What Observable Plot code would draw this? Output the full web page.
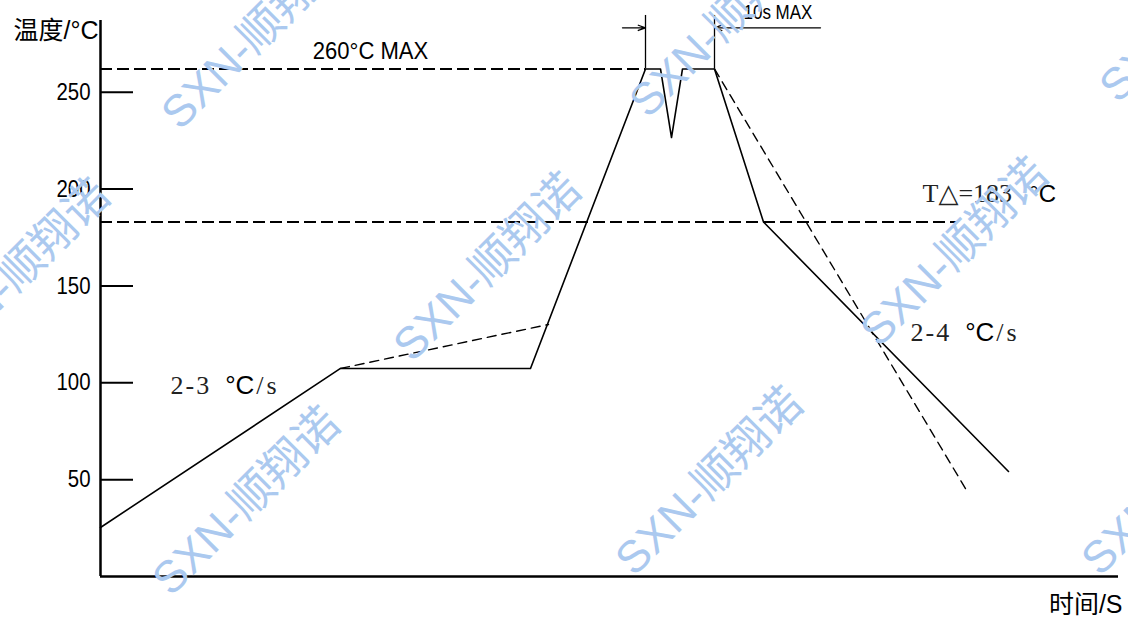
<!DOCTYPE html>
<html>
<head>
<meta charset="utf-8">
<script src="https://cdn.jsdelivr.net/npm/d3@7"></script>
<script src="https://cdn.jsdelivr.net/npm/@observablehq/plot@0.6"></script>
<style>
  html, body { margin: 0; padding: 0; background: #fff; }
  #wrap { position: relative; width: 1128px; height: 619px; overflow: hidden; background: #fff; }
  #chart { position: absolute; left: 0; top: 0; }
  #wm { position: absolute; left: 0; top: 0; width: 1128px; height: 619px; pointer-events: none; }
  #wm div {
    position: absolute; white-space: nowrap; color: #abc9ef;
    transform: translate(-50%, -50%) rotate(-45deg);
    font-family: "Liberation Sans", "Noto Sans CJK SC", sans-serif; font-size: 45px;
  }
</style>
</head>
<body>
<div id="wrap"><div id="chart"></div><div id="wm"></div></div>
<script>
// ---------- data (time in chart units, temperature in °C) ----------
const yTicks = [50, 100, 150, 200, 250];
const profileTime = [0, 240, 430, 545, 560, 571, 582, 614, 663, 908];
const profileTemp = [25.3, 107.4, 107.4, 262, 262, 226.6, 262, 262, 183, 54.2];
const soakAltTime = [240, 448];
const soakAltTemp = [107.4, 130.1];
const coolAltTime = [614, 865];
const coolAltTemp = [262, 45.4];
const limitTemps = [262, 183];
const limitEnds = [545, 857];
const dimTimes = [545, 614];
const dimTopTemp = 289.6;
const dimArrowTemp = 283.2;
const arrowStarts = [522, 720];
const arrowEnds = [545, 614];
const yLabel = "温度/°C";
const xLabel = "时间/S";
const noteTexts = ["260°C MAX", "10s MAX"];
const noteTime = [270, 643];
const noteTemp = [271.2, 290.9];
const rateTexts = ["2-3 °C/s", "2-4 °C/s", "T△=183 °C"];
const rateTime = [70, 810, 822];
const rateTemp = [98.6, 126.0, 197.7];
const watermarkText = "SXN-顺翔诺";

// ---------- tables ----------
const profile = profileTime.map((t, i) => ({t, v: profileTemp[i]}));
const soakAlt = soakAltTime.map((t, i) => ({t, v: soakAltTemp[i]}));
const coolAlt = coolAltTime.map((t, i) => ({t, v: coolAltTemp[i]}));
const limits = limitTemps.map((v, i) => ({v, end: limitEnds[i]}));
const dims = dimTimes.map(t => ({t, top: dimTopTemp, base: limitTemps[0]}));
const arrows = arrowStarts.map((s, i) => ({x1: s, x2: arrowEnds[i], y: dimArrowTemp}));
const notes = noteTexts.map((text, i) => ({text, t: noteTime[i], v: noteTemp[i]}));
const rates = rateTexts.map((text, i) => ({text, t: rateTime[i], v: rateTemp[i]}));

const SANS = "'Liberation Sans', 'Noto Sans CJK SC', Arial, sans-serif";
const SERIF = "'Liberation Serif', 'DejaVu Serif', serif";

const svg = Plot.plot({
  width: 1128, height: 619,
  marginLeft: 100, marginRight: 10, marginTop: 20, marginBottom: 43,
  style: {background: "transparent", fontFamily: SANS, color: "#000"},
  x: {domain: [0, 1018], axis: null},
  y: {domain: [0, 287]},
  marks: [
    Plot.axisY(yTicks, {tickSize: 0, tickPadding: 10, fontSize: 24, label: null}),
    Plot.ruleY(yTicks, {x1: 0, x2: 33, strokeWidth: 2}),
    Plot.ruleX([0], {strokeWidth: 2.5}),
    Plot.ruleY([0], {strokeWidth: 2.5}),
    Plot.ruleY(limits, {y: "v", x1: 0, x2: "end", strokeWidth: 2, strokeDasharray: "12,5"}),
    Plot.line(soakAlt, {x: "t", y: "v", strokeWidth: 1.4, strokeDasharray: "9,6"}),
    Plot.line(coolAlt, {x: "t", y: "v", strokeWidth: 1.4, strokeDasharray: "9,6"}),
    Plot.line(profile, {x: "t", y: "v", strokeWidth: 1.6}),
    Plot.ruleX(dims, {x: "t", y1: "base", y2: "top", strokeWidth: 1.3}),
    Plot.arrow(arrows, {x1: "x1", x2: "x2", y1: "y", y2: "y", strokeWidth: 1.3, headLength: 9, headAngle: 40}),
    Plot.text(notes.slice(0, 1), {x: "t", y: "v", text: "text", fontSize: 24, textAnchor: "middle", lineAnchor: "middle"}),
    Plot.text(notes.slice(1), {x: "t", y: "v", text: "text", fontSize: 20, textAnchor: "start", lineAnchor: "middle"}),
    Plot.text(rates, {x: "t", y: "v", text: "text", fontSize: 26, fontFamily: SERIF, fill: "#222", textAnchor: "start", lineAnchor: "middle"}),
    Plot.text([yLabel], {frameAnchor: "top-left", dx: -2, dy: 10, fontSize: 25, textAnchor: "end", lineAnchor: "middle"}),
    Plot.text([xLabel], {frameAnchor: "bottom-right", dx: 4, dy: 28, fontSize: 25, textAnchor: "end", lineAnchor: "middle"})
  ]
});
document.getElementById("chart").appendChild(svg);

// post-processing by text content: condensed sans labels, mixed serif/sans runs
const allText = Array.from(svg.querySelectorAll("text"));
function squeezeEl(el, k) {
  let t = el.getAttribute("transform");
  if (!t) {
    const x = el.getAttribute("x") || 0, y = el.getAttribute("y") || 0;
    t = `translate(${x},${y})`;
    el.removeAttribute("x"); el.removeAttribute("y");
  }
  el.setAttribute("transform", `${t} scale(${k},1)`);
}
const tickStrings = yTicks.map(String);
for (const el of allText) {
  const s = el.textContent;
  if (tickStrings.includes(s)) squeezeEl(el, 0.85);
  else if (s === noteTexts[0]) squeezeEl(el, 0.92);
  else if (s === noteTexts[1]) squeezeEl(el, 0.85);
  else if (rateTexts.includes(s)) {
    const [a, b] = s.split(" °C");
    const isT = a.startsWith("T");
    const sel = d3.select(el);
    sel.text(null);
    sel.append("tspan").attr("letter-spacing", isT ? 0 : 2).text(a);
    sel.append("tspan").attr("dx", isT ? 17 : 14).attr("font-family", SANS)
       .attr("font-size", isT ? 24 : 26).attr("fill", "#000").text("°C");
    if (b) sel.append("tspan").attr("dx", 2).attr("letter-spacing", 3).text(b);
  }
}

// watermark layer
const wmCenters = [[252, 32], [720, 20], [1190, 5], [13, 270], [484, 264], [951, 249], [243, 498], [706, 478], [1172, 478]];
const wm = document.getElementById("wm");
for (const [x, y] of wmCenters) {
  const d = document.createElement("div");
  d.style.left = x + "px"; d.style.top = y + "px";
  d.textContent = watermarkText;
  wm.appendChild(d);
}
</script>
</body>
</html>
